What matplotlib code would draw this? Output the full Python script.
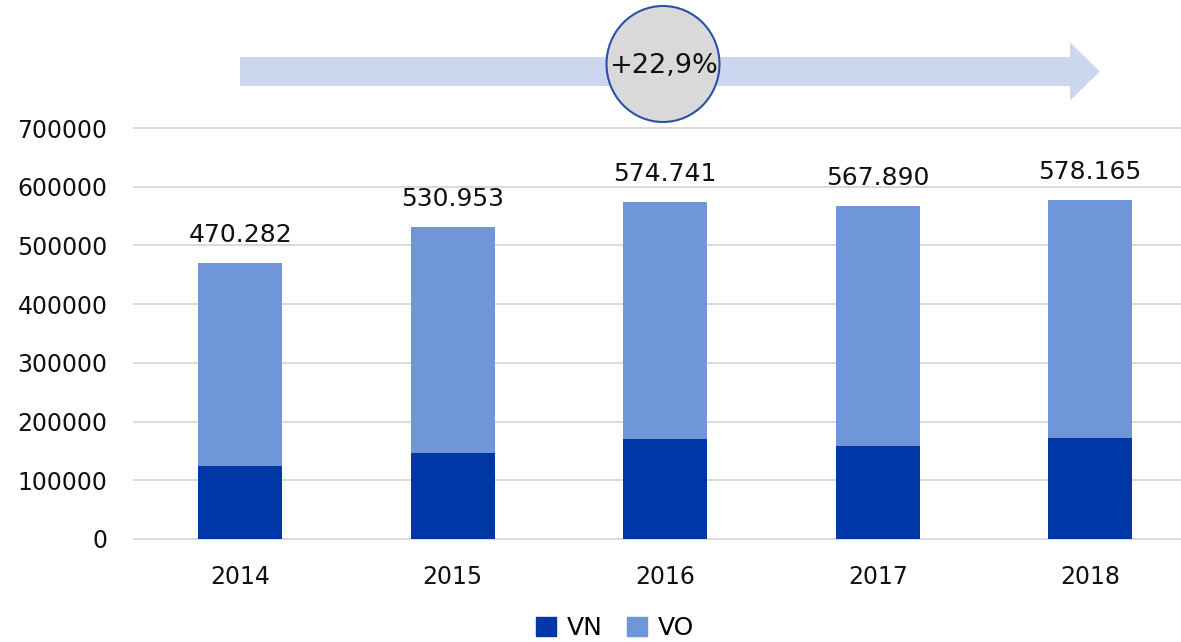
import matplotlib
matplotlib.use("Agg")
import matplotlib.pyplot as plt
from matplotlib.patches import FancyArrow, Ellipse, Patch

plt.rcParams['font.family'] = ['DejaVu Sans']

years = ['2014', '2015', '2016', '2017', '2018']
vn = [123600, 146300, 170300, 158300, 172000]
totals = [470282, 530953, 574741, 567890, 578165]
vo = [t - v for t, v in zip(totals, vn)]
total_labels = ['470.282', '530.953', '574.741', '567.890', '578.165']
growth_label = '+22,9%'

c_vn = '#0037A6'
c_vo = '#6F96D8'
c_grid = '#D9D9D9'

fig = plt.figure(figsize=(11.81, 6.42), dpi=100)
ax = fig.add_axes([134 / 1181, 1 - 539 / 642, 1 - 134 / 1181, (539 - 128) / 642])

x = list(range(len(years)))
ax.bar(x, vn, width=0.395, color=c_vn, zorder=3, label='VN')
ax.bar(x, vo, width=0.395, bottom=vn, color=c_vo, zorder=3, label='VO')

for xi, t, lab in zip(x, totals, total_labels):
    ax.annotate(lab, (xi, t), xytext=(0, 15), textcoords='offset points',
                ha='center', va='baseline', fontsize=18, color='#111111')

ax.set_ylim(0, 700000)
ax.set_xlim(-0.5, (1181 - 134) / 212.5 - 0.5)
ax.set_yticks(range(0, 700001, 100000))
ax.set_yticklabels([str(v) for v in range(0, 700001, 100000)])
ax.set_xticks(x)
ax.set_xticklabels(years)
ax.tick_params(axis='both', length=0, labelsize=17, colors='#111111')
ax.tick_params(axis='y', pad=19)
ax.tick_params(axis='x', pad=19)
for yv in range(0, 700001, 100000):
    ax.axhline(yv, color=c_grid, lw=1.4, zorder=1, clip_on=False)
for s in ax.spines.values():
    s.set_visible(False)

# arrow and growth bubble on top
ov = fig.add_axes([0, 0, 1, 1], zorder=5)
ov.set_xlim(0, 1181)
ov.set_ylim(642, 0)
ov.axis('off')
ov.patch.set_alpha(0)
ov.add_patch(FancyArrow(240, 71.5, 860, 0, width=29, head_width=58, head_length=30,
                        length_includes_head=True, color='#CAD7EE', lw=0))
ov.add_patch(Ellipse((663, 64), 113, 116, facecolor='#D9D9D9', edgecolor='#2B50A8', lw=1.5))
ov.text(663, 66, growth_label, ha='center', va='center', fontsize=19.5, color='#111111')

handles = [Patch(color=c_vn, label='VN'), Patch(color=c_vo, label='VO')]
fig.legend(handles=handles, loc='center', bbox_to_anchor=(615 / 1181, 1 - 628 / 642),
           ncol=2, frameon=False, fontsize=18, handlelength=0.8, handleheight=0.8,
           handletextpad=0.4, columnspacing=1.0, borderpad=0.1)

fig.savefig('out.png', dpi=100)
